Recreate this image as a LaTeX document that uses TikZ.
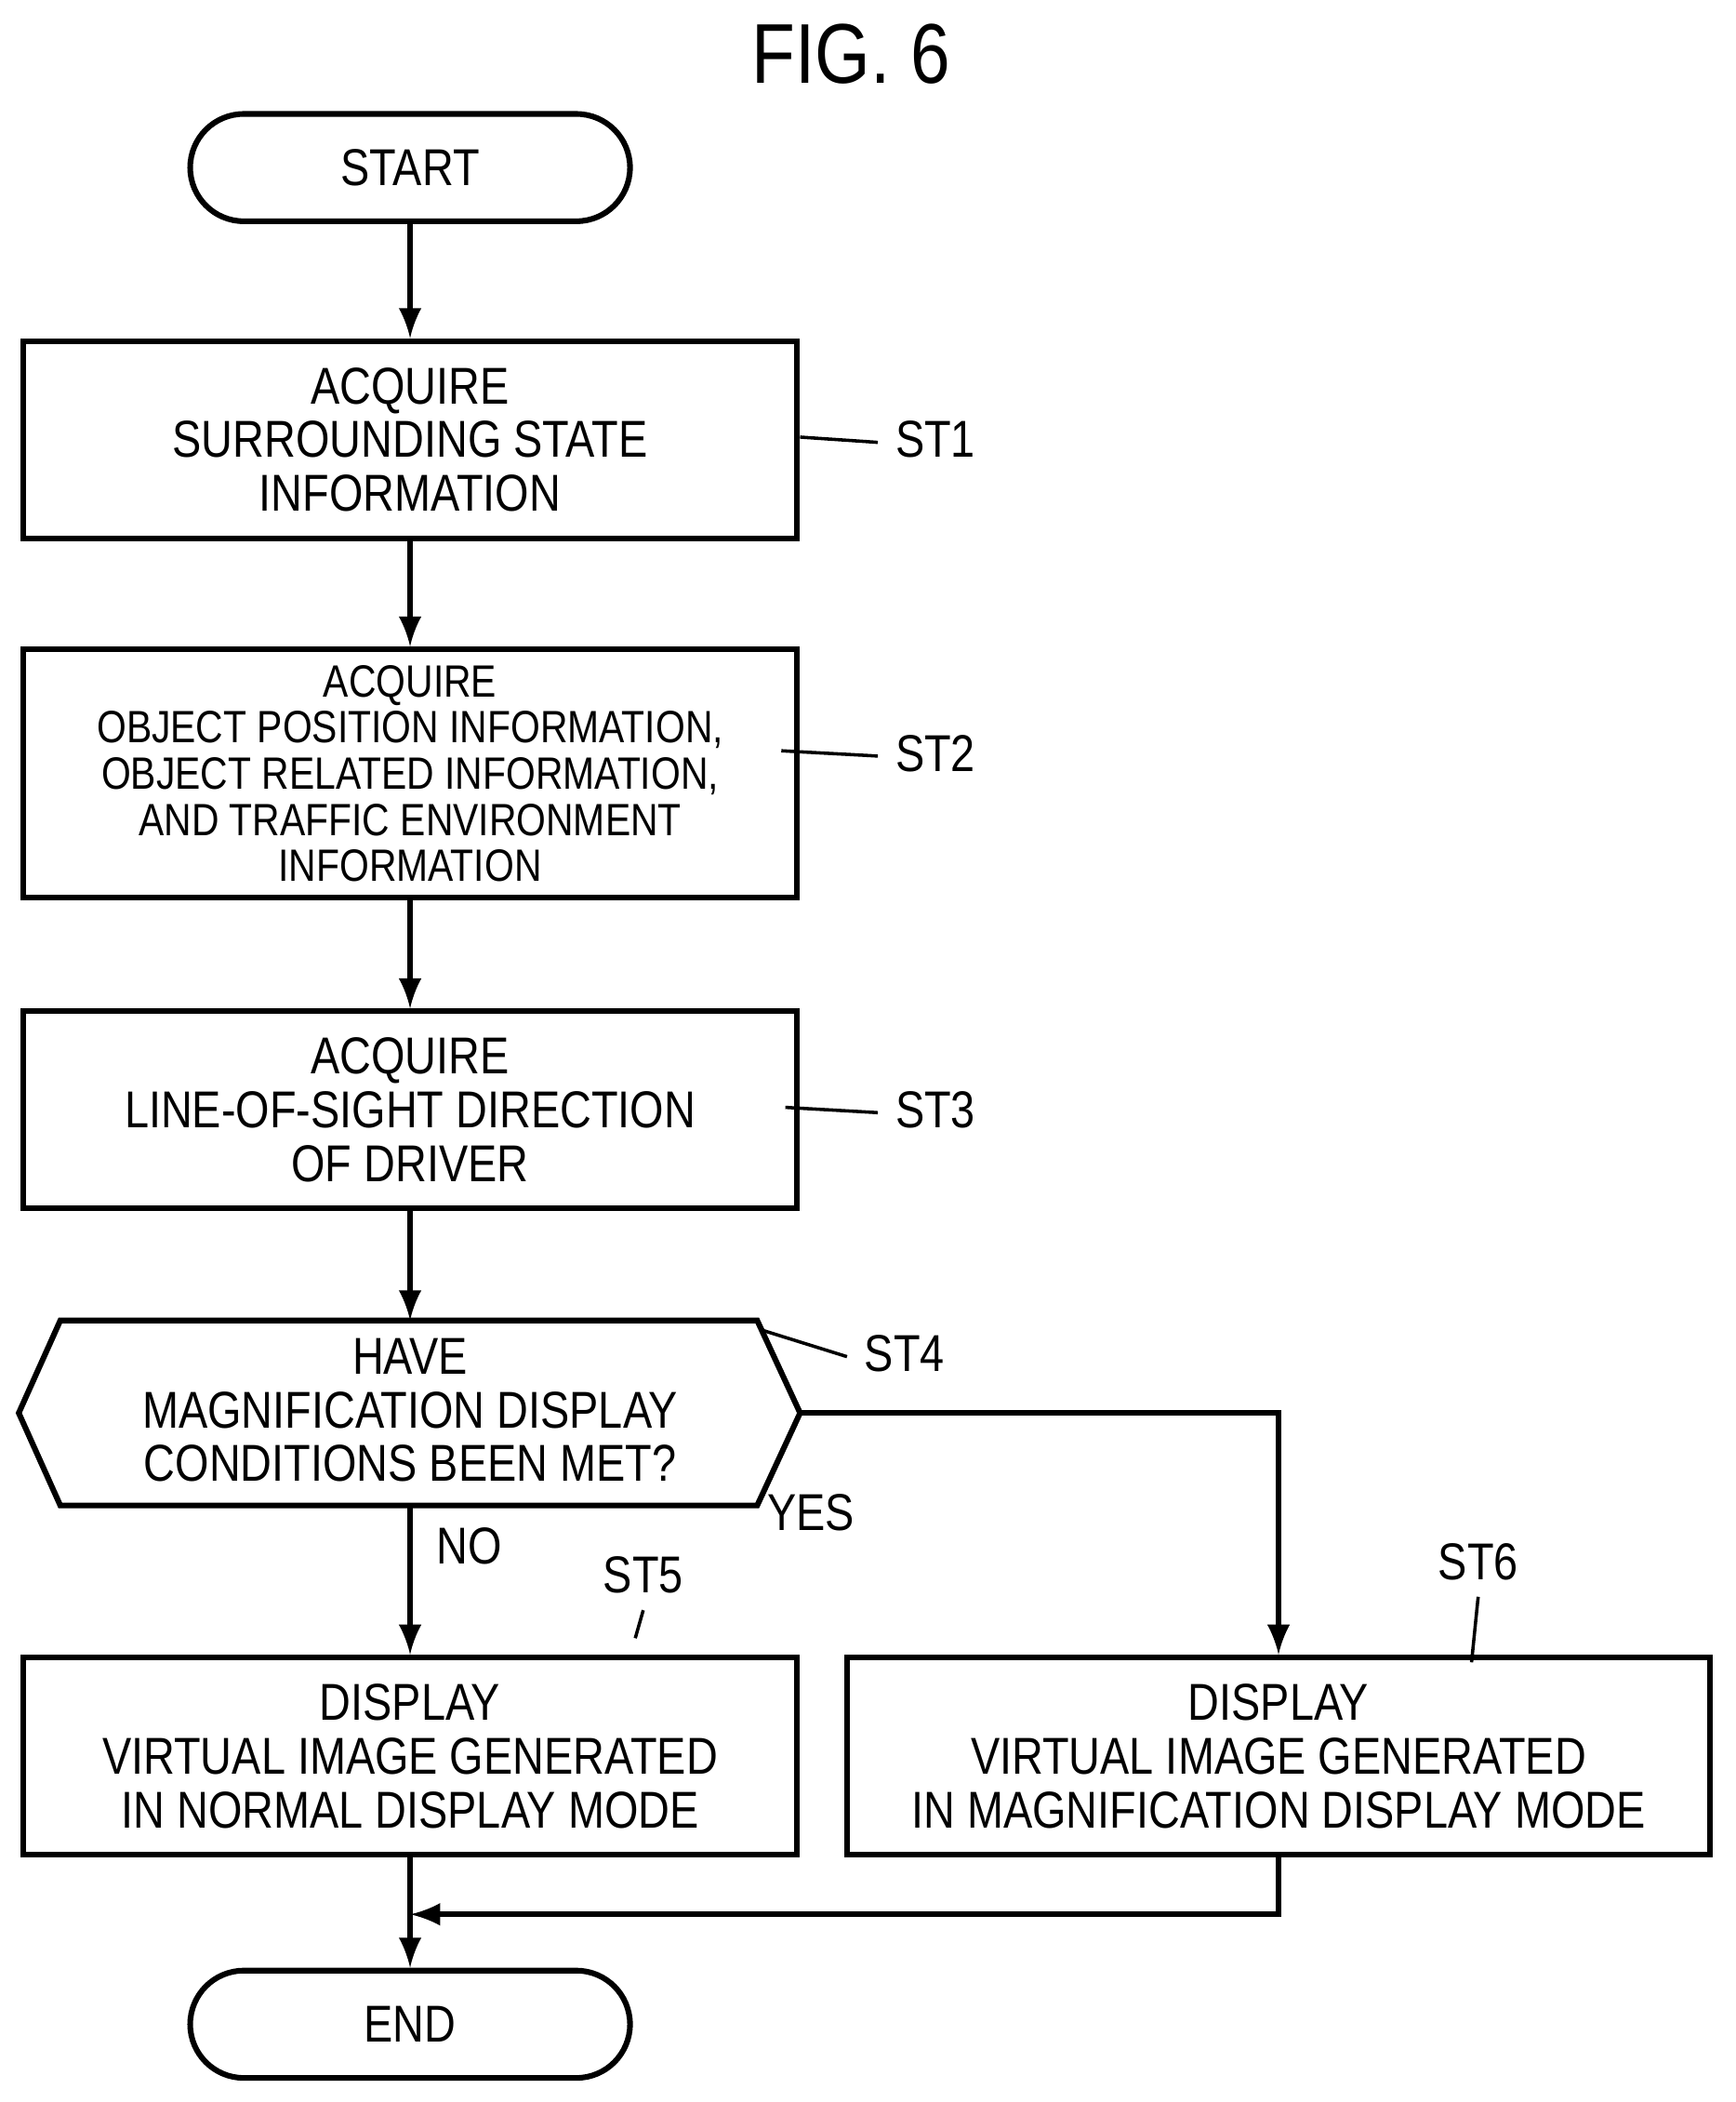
\documentclass[tikz,border=0pt]{standalone}
\usepackage{fontspec}
\setmainfont{Liberation Sans}[FakeStretch=0.84]
\usetikzlibrary{positioning}
\tikzset{
  proc/.style = {draw, line width = 1.2pt, minimum width = 5.77cm,
    minimum height = 1.47cm, align = center, inner sep = 0pt,
    font = \fontsize{11}{11.4}\selectfont},
  term/.style = {draw, line width = 1.2pt, rounded corners = 0.4cm,
    minimum width = 3.28cm, minimum height = 0.8cm,
    font = \fontsize{11}{11.4}\selectfont},
  flow/.style = {line width = 1.2pt, -latex},
  tag/.style = {font = \fontsize{11}{12}\selectfont},
}
\newcommand{\squig}[2]{\draw[line width = 0.7pt] (#1) .. controls +(0.25,0.12)
  and +(-0.25,-0.12) .. (#2);}
\begin{document}
\begin{tikzpicture}[x = 0.01cm, y = -0.01cm]
  \useasboundingbox (0, 0) rectangle (1295, 1568);

  \node[font = \fontsize{18}{20}\selectfont] (title) at (635, 40) {FIG. 6};

  \node[term] (start) at (306, 125) {START};
  \node[proc] (st1) at (306, 328) {ACQUIRE\\SURROUNDING STATE\\INFORMATION};
  \node[proc, minimum height = 1.85cm, font = \fontsize{9.6}{9.8}\selectfont]
    (st2) at (306, 577) {ACQUIRE\\OBJECT POSITION INFORMATION,\\OBJECT RELATED INFORMATION,\\AND TRAFFIC ENVIRONMENT\\INFORMATION};
  \node[proc] (st3) at (306, 828) {ACQUIRE\\LINE-OF-SIGHT DIRECTION\\OF DRIVER};

  % decision hexagon
  \coordinate (h1) at (14, 1054);
  \coordinate (h2) at (45, 985);
  \coordinate (h3) at (565, 985);
  \coordinate (h4) at (597, 1054);
  \coordinate (h5) at (565, 1123);
  \coordinate (h6) at (45, 1123);
  \draw[line width = 1.2pt] (h1) -- (h2) -- (h3) -- (h4) -- (h5) -- (h6) -- cycle;
  \node[align = center, font = \fontsize{11}{11.4}\selectfont] (st4) at (306, 1052)
    {HAVE\\MAGNIFICATION DISPLAY\\CONDITIONS BEEN MET?};

  \node[proc] (st5) at (306, 1310) {DISPLAY\\VIRTUAL IMAGE GENERATED\\IN NORMAL DISPLAY MODE};
  \node[proc, minimum width = 6.44cm] (st6) at (954, 1310)
    {DISPLAY\\VIRTUAL IMAGE GENERATED\\IN MAGNIFICATION DISPLAY MODE};
  \node[term] (end) at (306, 1510) {END};

  \draw[flow] (start) -- (st1);
  \draw[flow] (st1) -- (st2);
  \draw[flow] (st2) -- (st3);
  \draw[flow] (st3) -- (st3 |- h2);
  \draw[flow] (st4 |- h6) -- (st5);
  \draw[flow] (h4) -| (st6);
  \coordinate (join) at (306, 1428);
  \draw[flow] (st6.south) |- (join);
  \draw[flow] (st5) -- (end);

  \node[tag] (no) at (350, 1153) {NO};
  \node[tag] (yes) at (605, 1128) {YES};

  % step tags
  \node[tag] (t1) at (698, 328) {ST1};
  \node[tag] (t2) at (698, 562) {ST2};
  \node[tag] (t3) at (698, 828) {ST3};
  \node[tag] (t4) at (675, 1010) {ST4};
  \node[tag] (t5) at (480, 1175) {ST5};
  \node[tag] (t6) at (1103, 1165) {ST6};
  \squig{597, 326}{655, 330}
  \squig{583, 560}{655, 564}
  \squig{586, 826}{655, 830}
  \squig{568, 992}{632, 1012}
  \draw[line width = 0.7pt] (t5.south) .. controls +(-0.15,0.2) and +(0.1,-0.2) .. (474, 1222);
  \draw[line width = 0.7pt] (t6.south) .. controls +(-0.15,0.2) and +(0.1,-0.2) .. (1098, 1240);
\end{tikzpicture}
\end{document}
